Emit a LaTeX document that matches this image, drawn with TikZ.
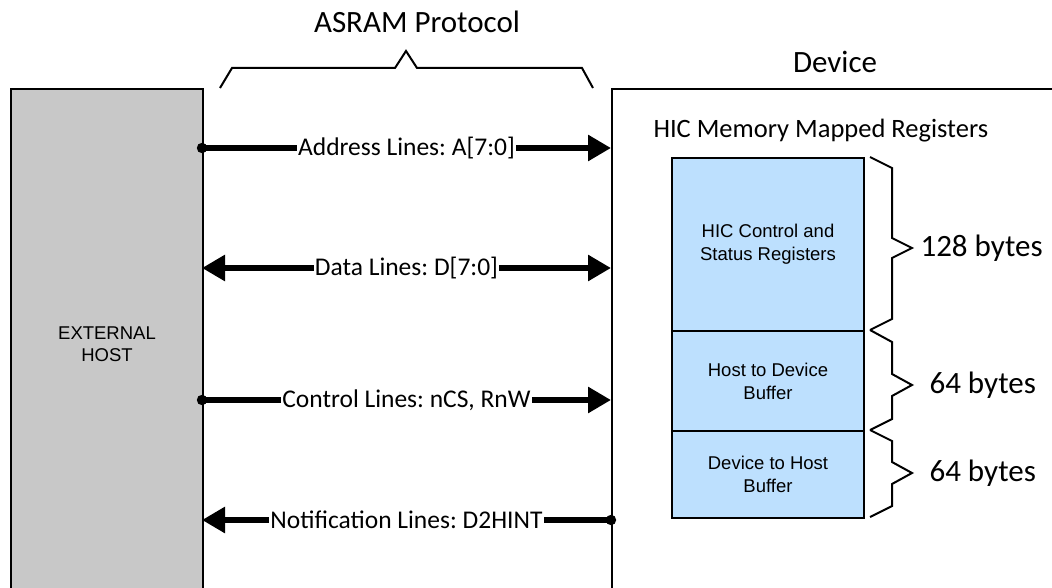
\documentclass[tikz,border=0pt]{standalone}
\usepackage{fontspec}
\setmainfont{Carlito}
\newfontfamily\arialf{Liberation Sans}
\usetikzlibrary{arrows.meta}
\definecolor{hostgray}{RGB}{200,200,200}
\definecolor{regblue}{RGB}{189,224,254}
\frenchspacing
\tikzset{
  box/.style={draw=black, line width=2pt, inner sep=0pt},
  regbox/.style={draw=black, line width=2pt, fill=regblue, minimum width=192pt, inner sep=0pt, align=center, font=\arialf\fontsize{18.5}{23}\selectfont},
  bus/.style={line width=6.5pt},
  tipboth/.style={{Triangle[length=23pt,width=25pt]}-{Triangle[length=23pt,width=25pt]}},
  dotstart/.style={{Circle[length=10pt]}-{Triangle[length=23pt,width=25pt]}, shorten <=-5pt},
  dotend/.style={{Triangle[length=23pt,width=25pt]}-{Circle[length=10pt]}, shorten >=-5pt},
  buslabel/.style={fill=white, inner xsep=1pt, inner ysep=0pt, font=\fontsize{25.5}{30}\selectfont},
  bigtext/.style={font=\fontsize{31}{36}\selectfont},
  brace/.style={line width=2pt, line join=miter},
}
\begin{document}
\begin{tikzpicture}[x=1pt,y=-1pt]
\useasboundingbox (0,0) rectangle (1052,588);
\clip (0,0) rectangle (1052,588);
% host and device
\node[box, fill=hostgray, minimum width=192pt, minimum height=510pt, anchor=north west, align=center,
      font=\arialf\fontsize{18.5}{22}\selectfont] (host) at (10,88) {EXTERNAL\\HOST};
\node[box, fill=white, minimum width=460pt, minimum height=510pt, anchor=north west] (device) at (611,88) {};
% titles
\node[bigtext] (proto) at (417,22) {ASRAM Protocol};
\node[bigtext] (devtitle) at (835,62) {Device};
\node[font=\fontsize{26.5}{30}\selectfont, anchor=west] (hic) at (650,131) {HIC Memory Mapped Registers};
% registers
\node[regbox, minimum height=173pt, anchor=north west] (r1) at (671,157) {HIC Control and\\Status Registers};
\node[regbox, minimum height=100pt, anchor=north west] (r2) at (671,330) {Host to Device\\Buffer};
\node[regbox, minimum height=87pt, anchor=north west] (r3) at (671,430) {Device to Host\\Buffer};
% braces on the right
\draw[brace] (870,157) -- (892,168) -- (892,238) -- (912,248) -- (892,258) -- (892,319) -- (870,330);
\draw[brace] (870,330) -- (892,342) -- (892,374) -- (912,385) -- (892,396) -- (892,419) -- (870,430);
\draw[brace] (870,430) -- (892,441) -- (892,462) -- (912,473) -- (892,484) -- (892,506) -- (870,517);
\node[bigtext, anchor=west] (b1) at (917,248) {128 bytes};
\node[bigtext, anchor=west] (b2) at (926,385) {64 bytes};
\node[bigtext, anchor=west] (b3) at (926,473) {64 bytes};
% protocol brace
\draw[brace] (220,88) -- (232,68) -- (395,68) -- (406,51) -- (417,68) -- (582,68) -- (593,88);
% bus end points
\coordinate (h1) at (202,148); \coordinate (d1) at (611,148);
\coordinate (h2) at (202,268); \coordinate (d2) at (611,268);
\coordinate (h3) at (202,400); \coordinate (d3) at (611,400);
\coordinate (h4) at (202,520); \coordinate (d4) at (611,520);
% buses
\draw[bus, dotstart] (h1) -- node[buslabel] (l1) {Address Lines: A[7:0]} (d1);
\draw[bus, tipboth] (h2) -- node[buslabel] (l2) {Data Lines: D[7:0]} (d2);
\draw[bus, dotstart] (h3) -- node[buslabel] (l3) {Control Lines: nCS, RnW} (d3);
\draw[bus, dotend] (h4) -- node[buslabel] (l4) {Notification Lines: D2HINT} (d4);
\end{tikzpicture}
\end{document}
